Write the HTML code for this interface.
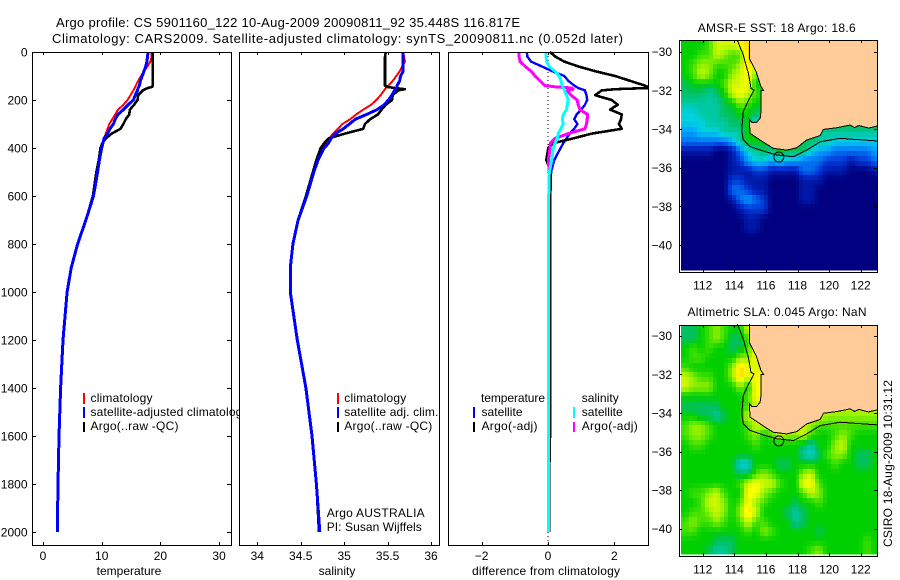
<!DOCTYPE html>
<html>
<head>
<meta charset="utf-8">
<title>Argo profile</title>
<style>
html,body{margin:0;padding:0;background:#fff;}
svg{display:block;font-family:"Liberation Sans",sans-serif;font-size:12px;fill:#000;}
</style>
</head>
<body>
<svg id="figure" width="900" height="580" viewBox="0 0 900 580" xmlns="http://www.w3.org/2000/svg">
<defs>
<clipPath id="clip-sst"><rect x="681" y="40" width="196" height="230.5"/></clipPath>
<clipPath id="clip-sla"><rect x="681" y="325" width="196" height="229.5"/></clipPath>
</defs>
<rect x="0" y="0" width="900" height="580" fill="#fff"/>
<text x="56" y="27" font-size="13" textLength="464" lengthAdjust="spacing">Argo profile: CS 5901160_122 10-Aug-2009 20090811_92 35.448S 116.817E</text>
<text x="52" y="43" font-size="13" textLength="571" lengthAdjust="spacing">Climatology: CARS2009. Satellite-adjusted climatology: synTS_20090811.nc (0.052d later)</text>

<g id="panel-temp">
  <g id="temp-marks"></g>
  <rect x="83" y="393" width="2" height="11" fill="#f00"/>
  <text x="90.5" y="402" textLength="62" lengthAdjust="spacing">climatology</text>
  <rect x="83" y="407" width="2" height="11" fill="#00f"/>
  <text x="90.5" y="416" textLength="158" lengthAdjust="spacing">satellite-adjusted climatology</text>
  <rect x="83" y="422" width="2" height="10" fill="#000"/>
  <text x="90.5" y="430" textLength="88" lengthAdjust="spacing">Argo(..raw -QC)</text>
  <text x="129" y="575" text-anchor="middle">temperature</text>
</g>

<g id="panel-sal">
  <rect x="239" y="48" width="206" height="500" fill="#fff"/>
  <g id="sal-marks"></g>
  <rect x="337" y="393" width="2" height="11" fill="#f00"/>
  <text x="344.3" y="402" textLength="62" lengthAdjust="spacing">climatology</text>
  <rect x="337" y="407" width="2" height="11" fill="#00f"/>
  <text x="344.3" y="416" textLength="94" lengthAdjust="spacing">satellite adj. clim.</text>
  <rect x="337" y="422" width="2" height="10" fill="#000"/>
  <text x="344.3" y="430" textLength="88" lengthAdjust="spacing">Argo(..raw -QC)</text>
  <text x="326.7" y="517" textLength="98" lengthAdjust="spacing">Argo AUSTRALIA</text>
  <text x="326.7" y="531" textLength="95" lengthAdjust="spacing">PI: Susan Wijffels</text>
  <text x="337" y="575" text-anchor="middle">salinity</text>
</g>

<g id="panel-diff">
  <g id="diff-marks"></g>
  <text x="481" y="402" textLength="64" lengthAdjust="spacing">temperature</text>
  <rect x="473" y="407" width="2" height="11" fill="#00f"/>
  <text x="481.5" y="416" textLength="41" lengthAdjust="spacing">satellite</text>
  <rect x="473" y="422" width="2" height="10" fill="#000"/>
  <text x="481.5" y="430" textLength="56" lengthAdjust="spacing">Argo(-adj)</text>
  <text x="581.7" y="402" textLength="37" lengthAdjust="spacing">salinity</text>
  <rect x="573" y="407" width="2" height="11" fill="#0ff"/>
  <text x="581.7" y="416" textLength="41" lengthAdjust="spacing">satellite</text>
  <rect x="573" y="422" width="2" height="10" fill="#f0f"/>
  <text x="581.7" y="430" textLength="56" lengthAdjust="spacing">Argo(-adj)</text>
  <text x="546" y="575" text-anchor="middle" textLength="148" lengthAdjust="spacing">difference from climatology</text>
</g>

<g id="map-sst"></g>
<text x="776.7" y="32" text-anchor="middle" textLength="158" lengthAdjust="spacing">AMSR-E SST: 18 Argo: 18.6</text>
<g id="map-sla"></g>
<text x="777" y="316" text-anchor="middle" textLength="179" lengthAdjust="spacing">Altimetric SLA: 0.045 Argo: NaN</text>
<text transform="translate(892,547) rotate(-90)" textLength="167" lengthAdjust="spacing">CSIRO 18-Aug-2009 10:31:12</text>
</svg>

<script>
const depths = [0,20,40,60,80,100,120,140,145,150,155,160,180,200,220,240,260,280,300,320,340,360,380,400,450,500,600,700,800,900,1000,1200,1400,1600,1800,2000];

const tempClim = [18.5,18.5,18.3,17.8,17.2,16.7,16.2,15.8,15.7,15.6,15.5,15.4,14.9,14.4,13.7,12.8,12.3,11.8,11.3,11.0,10.7,10.4,10.1,9.9,9.5,9.1,8.5,7.3,5.9,4.8,4.1,3.4,3.0,2.75,2.55,2.35];
const tempSat = [17.9,17.8,17.7,17.5,17.2,16.9,16.6,16.4,16.3,16.2,16.15,16.1,15.7,15.4,14.5,13.7,12.8,12.3,12.0,11.4,11.0,10.4,10.2,10.0,9.6,9.3,8.6,7.3,5.9,4.8,4.1,3.4,3.0,2.73,2.55,2.44];
const tempArgo = [18.7,18.7,18.7,18.7,18.7,18.7,18.7,18.7,18.6,17.9,17.4,17.0,16.2,16.1,15.5,14.8,14.7,14.1,13.7,13.2,11.7,10.7,10.1,9.8,9.5,9.1,8.5,7.3,5.9,4.8,4.1,3.4,3.0,2.75,2.55,2.4];

const salClim = [35.68,35.69,35.70,35.67,35.64,35.60,35.56,35.51,35.49,35.48,35.47,35.46,35.42,35.37,35.31,35.22,35.14,35.07,34.98,34.93,34.87,34.83,34.79,34.75,34.68,34.64,34.56,34.47,34.41,34.38,34.38,34.46,34.56,34.63,34.68,34.71];
const salSat = [35.68,35.68,35.68,35.68,35.68,35.65,35.64,35.61,35.61,35.60,35.59,35.58,35.55,35.51,35.46,35.38,35.26,35.13,35.06,34.99,34.90,34.85,34.82,34.77,34.70,34.65,34.57,34.47,34.41,34.38,34.38,34.46,34.56,34.63,34.68,34.72];
const salArgo = [35.48,35.47,35.47,35.47,35.47,35.47,35.47,35.47,35.49,35.58,35.70,35.62,35.56,35.55,35.48,35.43,35.39,35.30,35.24,35.22,35.01,34.82,34.77,34.73,34.68,34.64,34.56,34.47,34.41,34.38,34.38,34.46,34.56,34.63,34.68,34.71];

const diffTempSat = [-0.64,-0.62,-0.51,-0.19,0.13,0.49,0.61,0.79,0.85,0.91,1.01,1.11,1.16,1.18,1.11,1.0,0.86,0.79,0.89,0.79,0.65,0.56,0.46,0.38,0.19,0.09,0.07,0.07,0.07,0.07,0.07,0.07,0.06,0.06,0.03,0.03];
const diffTempArgo = [0.06,0.23,0.49,0.91,1.42,2.02,2.47,2.92,3.0,3.0,2.02,1.62,1.42,1.92,2.10,1.87,2.22,2.20,2.14,2.22,1.32,0.76,0.16,0.01,-0.05,0.09,0.07,0.07,0.07,0.07,0.07,0.07,0.06,0.06,0.03,0.03];
const diffSalSat = [-0.06,-0.06,-0.04,0.03,0.21,0.34,0.39,0.43,0.44,0.46,0.48,0.49,0.56,0.61,0.58,0.56,0.46,0.43,0.46,0.39,0.31,0.28,0.21,0.16,0.11,0.04,0.02,0.02,0.02,0.02,0.02,0.02,0.02,0.02,0.02,0.02];
const diffSalArgo = [-0.87,-0.87,-0.84,-0.69,-0.51,-0.39,-0.24,-0.09,0.21,0.71,0.76,0.58,0.69,0.88,0.91,0.96,1.19,1.18,1.16,1.11,0.61,0.21,0.07,0.06,0.01,0.04,0.02,0.02,0.02,0.02,0.02,0.02,0.02,0.02,0.02,0.02];

const depthTicks = [0,200,400,600,800,1000,1200,1400,1600,1800,2000];
const tempTicks = [0,10,20,30];
const salTicks = [34,34.5,35,35.5,36];
const diffTicks = [-2,0,2];
const lonTicks = [112,114,116,118,120,122];
const latTicks = [-30,-32,-34,-36,-38,-40];

const sstRows = [
[8,8,8,9,11,11,11,12,13,13],
[8,8,9,9,11,10,9,9,13,13],
[8,9,10,10,9,9,9,10,13,11,9],
[8,9,11,10,8,8,10,11,12,10,8],
[7,8,8,8,8,9,11,11,12,8,8],
[7,7,7,6,7,8,11,12,11,9,8],
[6,6,6,6,6,7,8,10,9,8,8],
[5,5,6,6,6,7,7,8,8,7,7],
[5,5,5,6,6,6,7,7,8,5,8],
[4,4,5,5,5,6,6,6,8,8,8,8,8,8,8,8,8,6,6,6,6,6,6,6,6],
[3,3,3,3,3,3,4,6,8,8,8,8,8,8,8,7,7,6,6,5,5,5,5,5,5],
[1,1,1,1,0,0,1,3,5,6,7,6,8,7,7,7,5,4,4,3,3,3,3,3,4],
[0,0,0,0,0,0,1,2,4,5,5,4,5,4,4,3,3,3,2,2,2,1,2,2,3],
[0,0,0,0,0,0,1,1,1,2,2,1,1,1,1,3,3,2,1,1,1,0,0,0,1],
[0,0,0,0,0,0,2,2,1,1,1,0,0,0,0,1,1,1,0,0,0,0,0,0,0],
[0,0,0,0,0,0,3,3,2,1,1,0,0,0,0,1,1,0,0,0,0,0,0,0,0],
[0,0,0,0,0,0,1,3,4,3,2,0,0,0,0,1,1,0,0,0,0,0,0,0,0],
[0,0,0,0,0,0,0,1,2,2,2,0,0,0,0,0,0,0,0,0,0,0,0,0,0],
[0,0,0,0,0,0,0,0,1,1,0,0,0,0,0,0,0,0,0,0,0,0,0,0,0],
[0,0,0,0,0,0,0,0,1,1,0,0,0,0,0,0,0,0,0,0,0,0,0,0,0],
[0,0,0,0,0,0,0,0,0,0,0,0,0,0,0,0,0,0,0,0,0,0,0,0,0],
[0,0,0,0,0,0,0,0,0,0,0,0,0,0,0,0,0,0,0,0,0,0,0,0,0],
[0,0,0,0,0,0,0,0,0,0,0,0,0,0,0,0,0,0,0,0,0,0,0,0,0],
[0,0,0,0,0,0,0,0,0,0,0,0,0,0,0,0,0,0,0,0,0,0,0,0,0]
];

const slaRows = [
[7,7,8,9,10,9,8,8,11,11],
[7,7,8,9,10,9,7,7,9,11],
[8,9,8,9,8,8,7,7,9,11,11],
[8,9,9,8,8,8,8,10,10,12,12],
[9,8,8,8,8,8,10,13,12,11,11],
[11,10,9,9,8,8,10,13,11,12,12],
[11,10,10,10,8,8,8,10,8,12,12],
[8,8,8,8,8,8,8,8,9,12,12],
[7,7,7,7,7,8,8,8,9,11,11],
[8,8,7,7,6,7,8,8,11,11,11,11,11,11,11,11,11,11,10,10,10,10,10,10,10],
[9,10,10,9,8,8,8,8,9,11,11,11,11,11,11,11,10,9,9,9,9,9,9,9,9],
[9,10,10,9,8,8,8,8,9,10,8,9,11,10,10,11,9,8,8,9,10,9,8,8,8],
[8,9,9,8,8,8,8,8,8,9,8,8,8,8,8,7,6,8,8,10,11,8,8,8,8],
[8,8,8,8,8,8,8,8,8,8,8,8,8,8,8,6,5,7,9,10,10,8,7,7,8],
[8,8,8,8,8,8,8,5,5,8,8,8,7,7,8,8,8,8,8,9,8,8,7,7,8],
[8,8,8,8,8,8,8,7,7,9,10,9,8,8,8,10,11,8,8,8,8,8,8,8,8],
[8,8,8,8,8,8,8,9,11,12,11,11,9,8,8,12,12,9,8,8,8,8,8,8,8],
[8,9,9,10,11,9,8,8,12,12,10,9,8,8,8,9,11,10,8,8,8,8,8,8,8],
[8,8,9,11,11,10,8,9,12,10,9,8,8,8,7,8,8,9,8,8,8,8,8,8,8],
[8,9,9,10,11,10,8,10,13,11,8,8,8,7,6,7,8,8,8,8,8,8,8,8,8],
[9,10,9,9,10,9,8,9,11,9,9,8,8,8,6,7,8,8,8,8,8,8,8,8,8],
[9,9,8,8,8,8,8,8,9,8,10,9,8,8,8,8,8,7,8,8,8,8,8,8,8],
[8,8,8,8,7,7,7,8,8,8,8,8,8,8,8,8,8,8,8,8,8,8,8,9,8],
[8,8,8,7,6,6,7,8,8,8,8,8,8,8,8,8,9,10,8,8,8,8,8,9,8]
];

const coastLon = [114.95,114.95,115.38,115.69,115.85,115.69,115.69,115.63,115.42,115.10,114.95,115.0,115.42,115.95,116.47,117.32,117.95,118.58,119.43,119.64,120.48,121.0,121.32,121.6,121.9,122.17,122.5,123.06];
const coastLat = [-29.4,-30.34,-31.03,-31.81,-32.0,-32.0,-33.1,-33.45,-33.66,-33.66,-33.53,-34.22,-34.45,-34.74,-35.0,-35.09,-34.97,-34.57,-34.34,-34.02,-33.93,-33.85,-33.79,-33.92,-33.82,-33.88,-33.95,-33.84];
const isoLon = [114.19,114.57,114.74,114.89,115.06,115.25,114.91,114.57,114.47,114.57,115.0,115.84,116.68,117.74,118.58,119.43,120.69,122.17,123.06];
const isoLat = [-29.4,-30.17,-30.69,-31.12,-31.9,-31.98,-32.5,-33.1,-34.05,-34.57,-34.91,-35.14,-35.34,-35.43,-35.09,-34.66,-34.48,-34.57,-34.62];
const floatLon = [116.817];
const floatLat = [-35.448];

const palette = [[0,0,128],[0,24,168],[0,56,216],[0,112,240],[0,160,255],[0,208,224],[0,200,160],[0,192,96],[0,208,0],[64,224,0],[144,240,0],[208,248,0],[255,255,0],[255,208,0],[255,160,0]];
const SVGNS = 'http://www.w3.org/2000/svg';

function mk(parent, tag, attrs, text) {
  const el = document.createElementNS(SVGNS, tag);
  for (const k in attrs) el.setAttribute(k, attrs[k]);
  if (text !== undefined) el.textContent = text;
  parent.appendChild(el);
  return el;
}

const yDepth = d => 52 + 0.24 * d;
const xTemp = v => 43 + 5.87 * v;
const xSal = v => 257.3 + 86.85 * (v - 34);
const xDiff = v => 548 + 33.2 * v;
const label = v => String(v).replace('-', '\u2212');

function colourFor(v) {
  const t = Math.max(0, Math.min(palette.length - 1, v));
  const i = Math.min(palette.length - 2, Math.floor(t));
  const f = t - i;
  const a = palette[i], b = palette[i + 1];
  return 'rgb(' + a.map((c, k) => Math.round(c + (b[k] - c) * f)).join(',') + ')';
}

function sampleGrid(rows, rowPos, colPos) {
  const get = (r, c) => {
    const row = rows[Math.max(0, Math.min(rows.length - 1, r))];
    return row[Math.max(0, Math.min(row.length - 1, c))];
  };
  const r0 = Math.floor(rowPos), c0 = Math.floor(colPos);
  const fr = rowPos - r0, fc = colPos - c0;
  const top = get(r0, c0) * (1 - fc) + get(r0, c0 + 1) * fc;
  const bottom = get(r0 + 1, c0) * (1 - fc) + get(r0 + 1, c0 + 1) * fc;
  return top * (1 - fr) + bottom * fr;
}

function drawFrame(g, box, name) {
  const el = mk(g, 'rect', {x: box.l + 0.5, y: box.t + 0.5, width: box.r - box.l, height: box.b - box.t, fill: 'none', stroke: '#000', 'stroke-width': 1, 'shape-rendering': 'crispEdges'});
  
  
}

function tickLine(g, x1, y1, x2, y2, name) {
  const el = mk(g, 'line', {x1, y1, x2, y2, stroke: '#000', 'stroke-width': 1, 'shape-rendering': 'crispEdges'});
  
  
}

function drawProfilePanel(g, box, xFn, xTicks, name, yAxis) {
  drawFrame(g, box, name);
  xTicks.forEach(v => {
    const x = Math.round(xFn(v)) + 0.5;
    tickLine(g, x, box.t, x, box.t + 3, name + '-top-tick');
    tickLine(g, x, box.b, x, box.b - 3, name + '-bottom-tick');
    const t = mk(g, 'text', {x: xFn(v), y: 560, 'text-anchor': 'middle'}, label(v));
    
    
  });
  if (yAxis) {
    depthTicks.forEach(d => {
      const y = Math.round(yDepth(d)) + 0.5;
      tickLine(g, box.l, y, box.l + 4, y, name + '-left-tick');
      tickLine(g, box.r, y, box.r - 4, y, name + '-right-tick');
      const t = mk(g, 'text', {x: 27.5, y: yDepth(d) + 4.5, 'text-anchor': 'end'}, String(d));
      
      
    });
  }
}

function drawProfile(g, values, xFn, color, width, name) {
  const pts = values.map((v, i) => xFn(v).toFixed(1) + ',' + yDepth(depths[i]).toFixed(1)).join(' ');
  const el = mk(g, 'polyline', {points: pts, fill: 'none', stroke: color, 'stroke-width': width, 'stroke-linejoin': 'round', 'shape-rendering': 'crispEdges'});
  
  
}

function drawMap(g, rows, yLat, box, clipId, name) {
  const xLon = v => 702.7 + 15.8 * (v - 112);
  const cells = mk(g, 'g', {'clip-path': 'url(#' + clipId + ')'});
  
  
  for (let r = 0; r < rows.length * 2; r++) {
    for (let c = 0; c < 50; c++) {
      const lon0 = 110.625 + c * 0.25;
      const lat0 = -29.4 - r * 0.25;
      const x0 = Math.round(xLon(lon0)), x1 = Math.round(xLon(lon0 + 0.25));
      const y0 = Math.round(yLat(lat0)), y1 = Math.round(yLat(lat0 - 0.25));
      const val = sampleGrid(rows, r / 2 - 0.25, c / 2 - 0.25);
      const cell = mk(cells, 'rect', {x: x0, y: y0, width: x1 - x0, height: y1 - y0, fill: colourFor(val), 'shape-rendering': 'crispEdges'});
      
      
    }
  }
  const landPts = coastLon.map((v, i) => xLon(v).toFixed(1) + ',' + yLat(coastLat[i]).toFixed(1));
  const land = mk(g, 'polygon', {points: landPts.join(' ') + ' ' + box.r + ',' + yLat(-33.84).toFixed(1) + ' ' + box.r + ',' + box.t + ' ' + xLon(114.95).toFixed(1) + ',' + box.t, fill: '#ffcc99'});
  
  
  const coast = mk(g, 'polyline', {points: landPts.join(' '), fill: 'none', stroke: '#000', 'stroke-width': 1, 'shape-rendering': 'crispEdges'});
  
  
  const iso = mk(g, 'polyline', {points: isoLon.map((v, i) => xLon(v).toFixed(1) + ',' + yLat(isoLat[i]).toFixed(1)).join(' '), fill: 'none', stroke: '#000', 'stroke-width': 1, 'shape-rendering': 'crispEdges'});
  
  
  const pos = mk(g, 'circle', {cx: xLon(floatLon[0]), cy: yLat(floatLat[0]), r: 5, fill: 'none', stroke: '#000', 'stroke-width': 1});
  
  
  drawFrame(g, box, name);
  lonTicks.forEach(v => {
    const x = Math.round(xLon(v)) + 0.5;
    tickLine(g, x, box.t, x, box.t + 3, name + '-top-tick');
    tickLine(g, x, box.b, x, box.b - 3, name + '-bottom-tick');
    const t = mk(g, 'text', {x: xLon(v), y: box.b + 17.5, 'text-anchor': 'middle'}, String(v));
    
    
  });
  latTicks.forEach(v => {
    const y = Math.round(yLat(v)) + 0.5;
    tickLine(g, box.l, y, box.l + 3, y, name + '-left-tick');
    tickLine(g, box.r, y, box.r - 3, y, name + '-right-tick');
    const t = mk(g, 'text', {x: 672, y: yLat(v) + 4.5, 'text-anchor': 'end'}, label(v));
    
    
  });
}

const gTemp = document.getElementById('temp-marks');
drawProfile(gTemp, tempClim, xTemp, '#f00', 2, 'temperature-climatology-line');
drawProfile(gTemp, tempArgo, xTemp, '#000', 2.6, 'temperature-argo-line');
drawProfile(gTemp, tempSat, xTemp, '#00f', 3, 'temperature-satellite-line');
drawProfilePanel(gTemp, {l: 32, r: 231, t: 52, b: 545}, xTemp, tempTicks, 'temperature-axis', true);

const gSal = document.getElementById('sal-marks');
drawProfile(gSal, salClim, xSal, '#f00', 2, 'salinity-climatology-line');
drawProfile(gSal, salArgo, xSal, '#000', 2.6, 'salinity-argo-line');
drawProfile(gSal, salSat, xSal, '#00f', 3, 'salinity-satellite-line');
drawProfilePanel(gSal, {l: 239, r: 439, t: 52, b: 545}, xSal, salTicks, 'salinity-axis', false);

const gDiff = document.getElementById('diff-marks');
const zeroLine = mk(gDiff, 'line', {x1: xDiff(0), y1: 52, x2: xDiff(0), y2: 545, stroke: '#000', 'stroke-width': 1, 'stroke-dasharray': '1 3', 'shape-rendering': 'crispEdges'});


drawProfile(gDiff, diffTempSat, xDiff, '#00f', 2.4, 'difference-temp-satellite-line');
drawProfile(gDiff, diffTempArgo, xDiff, '#000', 2.6, 'difference-temp-argo-line');
drawProfile(gDiff, diffSalArgo, xDiff, '#f0f', 3, 'difference-sal-argo-line');
drawProfile(gDiff, diffSalSat, xDiff, '#0ff', 3, 'difference-sal-satellite-line');
drawProfilePanel(gDiff, {l: 448, r: 648, t: 52, b: 545}, xDiff, diffTicks, 'difference-axis', false);

drawMap(document.getElementById('map-sst'), sstRows, v => 51.7 + (-30 - v) * 19.33, {l: 679, r: 877, t: 40, b: 272}, 'clip-sst', 'sst-map');
drawMap(document.getElementById('map-sla'), slaRows, v => 335.7 + (-30 - v) * 19.3, {l: 679, r: 877, t: 325, b: 556}, 'clip-sla', 'sla-map');
</script>
</body>
</html>
